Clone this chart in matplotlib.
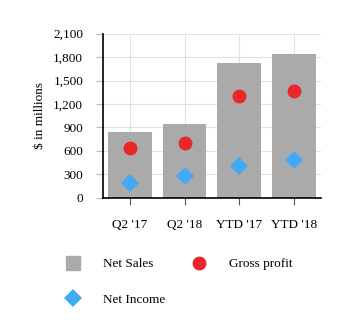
import matplotlib.pyplot as plt
from matplotlib.lines import Line2D
import numpy as np

categories = ["Q2 '17", "Q2 '18", "YTD '17", "YTD '18"]
net_sales = [835, 940, 1725, 1838]
gross_profit = [632, 697, 1300, 1362]
net_income = [186, 279, 412, 484]
yticks = [0, 300, 600, 900, 1200, 1500, 1800, 2100]

grey = '#aaaaaa'
red = '#e8282b'
blue = '#42aaf5'

plt.rcParams['font.family'] = ['Liberation Serif', 'DejaVu Serif']

fig = plt.figure(figsize=(3.54, 3.33), dpi=100)
ax = fig.add_axes([102.7/354, 1-197.7/333, (321-102.7)/354, (197.7-33.7)/333])

x = np.arange(len(categories))
ax.bar(x, net_sales, width=0.8, color=grey, zorder=2)
ax.plot(x, gross_profit, 'o', color=red, markersize=9, zorder=3)
ax.plot(x, net_income, 'D', color=blue, markersize=9, markeredgewidth=0, zorder=3)

ax.set_xlim(-0.5, 3.5)
ax.set_ylim(0, 2100)
ax.set_xticks(x)
ax.set_xticklabels(categories, fontsize=9.5)
ax.set_yticks(yticks)
ax.set_yticklabels(['{:,}'.format(v) for v in yticks], fontsize=9.5)
ax.grid(True, color='#e0e0e0', linewidth=0.8, zorder=0)
ax.set_axisbelow(True)
for s in ['top', 'right']:
    ax.spines[s].set_visible(False)
ax.spines['left'].set_linewidth(1.2)
ax.spines['bottom'].set_linewidth(1.2)
ax.tick_params(axis='x', length=5, width=0.8, color='#555555', pad=10)
ax.tick_params(axis='y', length=5, width=0.8, color='#bbbbbb', pad=9)
ax.set_ylabel('$ in millions', fontsize=9.5, labelpad=5)

# legend: column-filled, so order is Net Sales, Net Income | Gross profit
handles = [
    Line2D([], [], linestyle='none', marker='s', color=grey, markersize=10),
    Line2D([], [], linestyle='none', marker='D', color=blue, markersize=9, markeredgewidth=0),
    Line2D([], [], linestyle='none', marker='o', color=red, markersize=9),
]
labels = ['Net Sales', 'Net Income', 'Gross profit']
fig.legend(handles, labels, loc='upper left', bbox_to_anchor=(65/354, 1-258/333), ncol=2,
           frameon=False, fontsize=9.5, handletextpad=1.65, columnspacing=2.0,
           labelspacing=1.75, handlelength=1.2, borderpad=0, borderaxespad=0)

fig.savefig('out.png', dpi=100)
